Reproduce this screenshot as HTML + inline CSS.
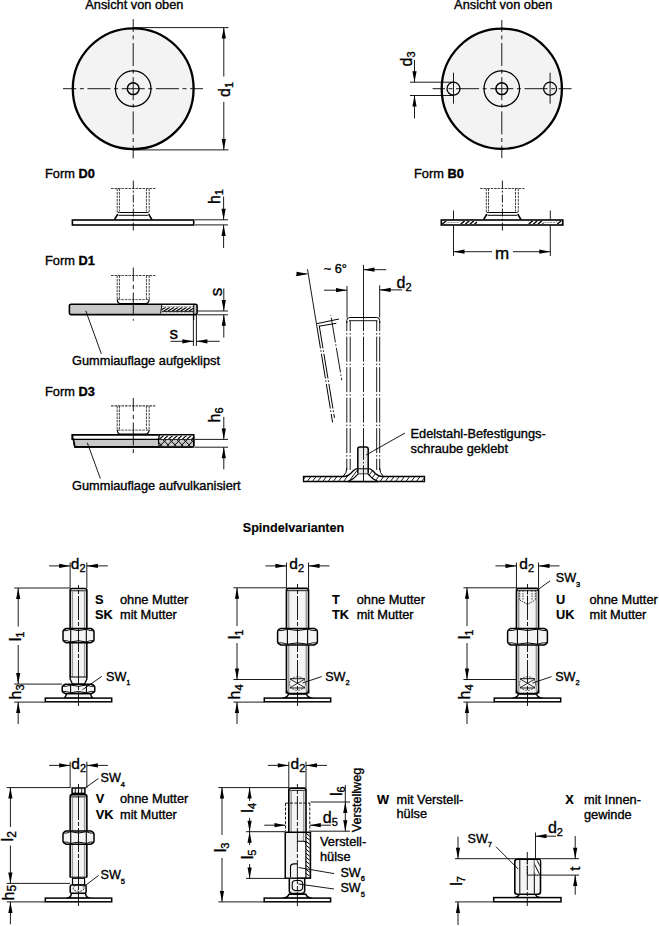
<!DOCTYPE html>
<html><head><meta charset="utf-8"><style>
html,body{margin:0;padding:0;background:#fff;}
svg{display:block;font-family:"Liberation Sans", sans-serif;}
</style></head><body>
<svg width="659" height="926" viewBox="0 0 659 926" font-family="Liberation Sans, sans-serif" fill="#000">
<rect width="659" height="926" fill="#fff"/>
<text x="85.3" y="9.2" font-size="12.8" stroke="#000" stroke-width="0.35">Ansicht von oben</text>
<text x="454.1" y="9.2" font-size="12.8" stroke="#000" stroke-width="0.35">Ansicht von oben</text>
<circle cx="133.2" cy="88.7" r="60.4" fill="#f3f3f3" stroke="#000" stroke-width="2.3"/>
<circle cx="133.2" cy="88.7" r="17.8" fill="none" stroke="#000" stroke-width="1.25"/>
<circle cx="133.2" cy="88.7" r="5.9" fill="none" stroke="#000" stroke-width="1.5"/>
<line x1="133.2" y1="19" x2="133.2" y2="158.3" stroke="#000" stroke-width="0.9" stroke-dasharray="23 3.6 4 3.6" stroke-dashoffset="10.2"/>
<line x1="63" y1="88.7" x2="203" y2="88.7" stroke="#000" stroke-width="0.9" stroke-dasharray="23 3.6 4 3.6" stroke-dashoffset="9.7"/>
<line x1="133.2" y1="27.6" x2="228.5" y2="27.6" stroke="#000" stroke-width="0.9"/>
<line x1="133.2" y1="149.9" x2="228.5" y2="149.9" stroke="#000" stroke-width="0.9"/>
<line x1="223.8" y1="27.6" x2="223.8" y2="76.5" stroke="#000" stroke-width="0.9"/>
<polygon points="223.8,27.6 221.7,38.6 225.9,38.6" fill="#000"/>
<line x1="223.8" y1="149.9" x2="223.8" y2="102" stroke="#000" stroke-width="0.9"/>
<polygon points="223.8,149.9 221.7,138.9 225.9,138.9" fill="#000"/>
<text x="230" y="89.5" font-size="16" text-anchor="middle" transform="rotate(-90 230 89.5)" stroke="#000" stroke-width="0.35">d<tspan font-size="11" dy="3.2">1</tspan></text>
<circle cx="501.8" cy="88.7" r="60.1" fill="#f3f3f3" stroke="#000" stroke-width="2.3"/>
<circle cx="501.8" cy="88.7" r="17.8" fill="none" stroke="#000" stroke-width="1.25"/>
<circle cx="501.8" cy="88.7" r="5.9" fill="none" stroke="#000" stroke-width="1.5"/>
<circle cx="453.5" cy="88.7" r="6.5" fill="#f3f3f3" stroke="#000" stroke-width="1.3"/>
<line x1="453.5" y1="72.7" x2="453.5" y2="103.7" stroke="#000" stroke-width="0.9"/>
<circle cx="550.1" cy="88.7" r="6.5" fill="#f3f3f3" stroke="#000" stroke-width="1.3"/>
<line x1="550.1" y1="72.7" x2="550.1" y2="103.7" stroke="#000" stroke-width="0.9"/>
<line x1="501.8" y1="20" x2="501.8" y2="158.1" stroke="#000" stroke-width="0.9" stroke-dasharray="23 3.6 4 3.6" stroke-dashoffset="11.2"/>
<line x1="432.6" y1="88.7" x2="571.6" y2="88.7" stroke="#000" stroke-width="0.9" stroke-dasharray="23 3.6 4 3.6" stroke-dashoffset="10.7"/>
<line x1="410" y1="82.2" x2="453" y2="82.2" stroke="#000" stroke-width="0.9"/>
<line x1="410" y1="95.5" x2="453" y2="95.5" stroke="#000" stroke-width="0.9"/>
<line x1="414.5" y1="82.2" x2="414.5" y2="60" stroke="#000" stroke-width="0.9"/>
<polygon points="414.5,82.2 412.4,71.2 416.6,71.2" fill="#000"/>
<line x1="414.5" y1="95.5" x2="414.5" y2="118.5" stroke="#000" stroke-width="0.9"/>
<polygon points="414.5,95.5 412.4,106.5 416.6,106.5" fill="#000"/>
<text x="412.1" y="59" font-size="16" text-anchor="middle" transform="rotate(-90 412.1 59)" stroke="#000" stroke-width="0.35">d<tspan font-size="11" dy="3.2">3</tspan></text>
<text x="45" y="178.4" font-size="12.8" stroke="#000" stroke-width="0.35">Form <tspan font-weight="bold">D0</tspan></text>
<line x1="111" y1="188.5" x2="155.3" y2="188.5" stroke="#444" stroke-width="1.1" stroke-dasharray="2.6 0.9"/>
<line x1="117.2" y1="188.5" x2="117.2" y2="211.5" stroke="#444" stroke-width="1" stroke-dasharray="2.6 0.9"/>
<line x1="119.4" y1="188.5" x2="119.4" y2="211.5" stroke="#444" stroke-width="1" stroke-dasharray="2.6 0.9"/>
<line x1="146.4" y1="188.5" x2="146.4" y2="211.5" stroke="#444" stroke-width="1" stroke-dasharray="2.6 0.9"/>
<line x1="149.2" y1="188.5" x2="149.2" y2="211.5" stroke="#444" stroke-width="1" stroke-dasharray="2.6 0.9"/>
<path d="M117.2,211.5 Q117.2,212.5 119.3,212.5 L147.1,212.5 Q149.2,212.5 149.2,211.5" fill="none" stroke="#000" stroke-width="1"/>
<line x1="118.5" y1="215.3" x2="147.9" y2="215.3" stroke="#000" stroke-width="1"/>
<path d="M117.8,214 L114.3,220" fill="none" stroke="#000" stroke-width="1.5"/>
<path d="M148.6,214 L152.1,220" fill="none" stroke="#000" stroke-width="1.5"/>
<rect x="72.4" y="220" width="121.3" height="5" fill="#fff" stroke="#000" stroke-width="1.6"/>
<line x1="133.3" y1="180.6" x2="133.3" y2="231.5" stroke="#000" stroke-width="0.9" stroke-dasharray="8 2 2 2"/>
<line x1="195" y1="219.8" x2="228" y2="219.8" stroke="#000" stroke-width="0.9"/>
<line x1="195" y1="224.9" x2="228" y2="224.9" stroke="#000" stroke-width="0.9"/>
<line x1="223.6" y1="219.8" x2="223.6" y2="196.5" stroke="#000" stroke-width="0.9"/>
<polygon points="223.6,219.8 221.5,208.8 225.7,208.8" fill="#000"/>
<line x1="223.6" y1="224.9" x2="223.6" y2="248" stroke="#000" stroke-width="0.9"/>
<polygon points="223.6,224.9 221.5,235.9 225.7,235.9" fill="#000"/>
<text x="220" y="196.6" font-size="16" text-anchor="middle" transform="rotate(-90 220 196.6)" stroke="#000" stroke-width="0.35">h<tspan font-size="11" dy="3.2">1</tspan></text>
<text x="414" y="178.4" font-size="12.8" stroke="#000" stroke-width="0.35">Form <tspan font-weight="bold">B0</tspan></text>
<line x1="480.1" y1="188.5" x2="524.4" y2="188.5" stroke="#444" stroke-width="1.1" stroke-dasharray="2.6 0.9"/>
<line x1="486.3" y1="188.5" x2="486.3" y2="211.5" stroke="#444" stroke-width="1" stroke-dasharray="2.6 0.9"/>
<line x1="488.5" y1="188.5" x2="488.5" y2="211.5" stroke="#444" stroke-width="1" stroke-dasharray="2.6 0.9"/>
<line x1="515.5" y1="188.5" x2="515.5" y2="211.5" stroke="#444" stroke-width="1" stroke-dasharray="2.6 0.9"/>
<line x1="518.3" y1="188.5" x2="518.3" y2="211.5" stroke="#444" stroke-width="1" stroke-dasharray="2.6 0.9"/>
<path d="M486.3,211.5 Q486.3,212.5 488.4,212.5 L516.2,212.5 Q518.3,212.5 518.3,211.5" fill="none" stroke="#000" stroke-width="1"/>
<line x1="487.6" y1="215.3" x2="517" y2="215.3" stroke="#000" stroke-width="1"/>
<path d="M486.9,214 L483.4,220" fill="none" stroke="#000" stroke-width="1.5"/>
<path d="M517.7,214 L521.2,220" fill="none" stroke="#000" stroke-width="1.5"/>
<rect x="441.3" y="220" width="121.5" height="5" fill="#fff" stroke="#000" stroke-width="1.6"/>
<clipPath id="c60"><rect x="441.5" y="220.9" width="5.5" height="3.2"/></clipPath>
<path d="M433.06,224.1 L436.9,220.9 M437.66,224.1 L441.5,220.9 M442.26,224.1 L446.1,220.9 M446.86,224.1 L450.7,220.9 " stroke="#000" stroke-width="1.3" clip-path="url(#c60)"/>
<clipPath id="c62"><rect x="460" y="220.9" width="17" height="3.2"/></clipPath>
<path d="M451.56,224.1 L455.4,220.9 M456.16,224.1 L460,220.9 M460.76,224.1 L464.6,220.9 M465.36,224.1 L469.2,220.9 M469.96,224.1 L473.8,220.9 M474.56,224.1 L478.4,220.9 " stroke="#000" stroke-width="1.3" clip-path="url(#c62)"/>
<clipPath id="c64"><rect x="528" y="220.9" width="15.5" height="3.2"/></clipPath>
<path d="M519.56,224.1 L523.4,220.9 M524.16,224.1 L528,220.9 M528.76,224.1 L532.6,220.9 M533.36,224.1 L537.2,220.9 M537.96,224.1 L541.8,220.9 M542.56,224.1 L546.4,220.9 " stroke="#000" stroke-width="1.3" clip-path="url(#c64)"/>
<clipPath id="c66"><rect x="556.5" y="220.9" width="5.5" height="3.2"/></clipPath>
<path d="M548.06,224.1 L551.9,220.9 M552.66,224.1 L556.5,220.9 M557.26,224.1 L561.1,220.9 M561.86,224.1 L565.7,220.9 " stroke="#000" stroke-width="1.3" clip-path="url(#c66)"/>
<line x1="453.5" y1="210.5" x2="453.5" y2="219.5" stroke="#000" stroke-width="0.9"/>
<line x1="453.5" y1="225.5" x2="453.5" y2="256" stroke="#000" stroke-width="0.9"/>
<line x1="447.5" y1="222.5" x2="459.5" y2="222.5" stroke="#777" stroke-width="0.8" stroke-dasharray="2 1"/>
<line x1="550.3" y1="210.5" x2="550.3" y2="219.5" stroke="#000" stroke-width="0.9"/>
<line x1="550.3" y1="225.5" x2="550.3" y2="256" stroke="#000" stroke-width="0.9"/>
<line x1="544.3" y1="222.5" x2="556.3" y2="222.5" stroke="#777" stroke-width="0.8" stroke-dasharray="2 1"/>
<line x1="453.5" y1="251.7" x2="492" y2="251.7" stroke="#000" stroke-width="0.9"/>
<polygon points="453.5,251.7 464.5,249.6 464.5,253.8" fill="#000"/>
<line x1="550.3" y1="251.7" x2="513" y2="251.7" stroke="#000" stroke-width="0.9"/>
<polygon points="550.3,251.7 539.3,249.6 539.3,253.8" fill="#000"/>
<text x="502.2" y="258.5" font-size="17" text-anchor="middle" stroke="#000" stroke-width="0.35">m</text>
<line x1="502.4" y1="180.6" x2="502.4" y2="231.5" stroke="#000" stroke-width="0.9" stroke-dasharray="8 2 2 2"/>
<text x="45" y="265.2" font-size="12.8" stroke="#000" stroke-width="0.35">Form <tspan font-weight="bold">D1</tspan></text>
<line x1="111" y1="275.5" x2="155.3" y2="275.5" stroke="#444" stroke-width="1.1" stroke-dasharray="2.6 0.9"/>
<line x1="117.2" y1="275.5" x2="117.2" y2="299.3" stroke="#444" stroke-width="1" stroke-dasharray="2.6 0.9"/>
<line x1="119.4" y1="275.5" x2="119.4" y2="299.3" stroke="#444" stroke-width="1" stroke-dasharray="2.6 0.9"/>
<line x1="146.4" y1="275.5" x2="146.4" y2="299.3" stroke="#444" stroke-width="1" stroke-dasharray="2.6 0.9"/>
<line x1="149.2" y1="275.5" x2="149.2" y2="299.3" stroke="#444" stroke-width="1" stroke-dasharray="2.6 0.9"/>
<path d="M117.2,299.3 Q117.8,303.8 120.3,303.6 L145.5,303.6 Q148.6,303.8 149.2,299.3" fill="none" stroke="#000" stroke-width="1.2"/>
<line x1="117.8" y1="299.6" x2="148.6" y2="299.6" stroke="#444" stroke-width="0.9" stroke-dasharray="2.6 0.9"/>
<rect x="69.4" y="304.3" width="127.7" height="10.3" fill="#c8c8c8" stroke="#000" stroke-width="1.6" rx="1.5"/>
<path d="M162,305.1 L193.7,305.1 L193.7,313.6 L160.5,313.6 Z" fill="#fff" stroke="#fff" stroke-width="0.1"/>
<line x1="161.8" y1="305.1" x2="160.6" y2="313.6" stroke="#000" stroke-width="1"/>
<line x1="162" y1="306.6" x2="193.5" y2="306.6" stroke="#888" stroke-width="0.9" stroke-dasharray="2 0.7"/>
<line x1="162" y1="311.3" x2="193.5" y2="311.3" stroke="#000" stroke-width="1"/>
<line x1="161" y1="312.6" x2="193.5" y2="312.6" stroke="#aaa" stroke-width="0.9" stroke-dasharray="3 0.8"/>
<clipPath id="c94"><rect x="161.5" y="307.2" width="32" height="3.8"/></clipPath>
<path d="M151.22,311 L157.3,307.2 M155.42,311 L161.5,307.2 M159.62,311 L165.7,307.2 M163.82,311 L169.9,307.2 M168.02,311 L174.1,307.2 M172.22,311 L178.3,307.2 M176.42,311 L182.5,307.2 M180.62,311 L186.7,307.2 M184.82,311 L190.9,307.2 M189.02,311 L195.1,307.2 M193.22,311 L199.3,307.2 " stroke="#000" stroke-width="1.2" clip-path="url(#c94)"/>
<line x1="193.7" y1="305" x2="193.7" y2="320" stroke="#000" stroke-width="1"/>
<line x1="133.3" y1="267.6" x2="133.3" y2="320.7" stroke="#000" stroke-width="0.9" stroke-dasharray="23 3.6 4 3.6" stroke-dashoffset="9.3"/>
<line x1="197.5" y1="311" x2="228" y2="311" stroke="#000" stroke-width="0.9"/>
<line x1="197.5" y1="314.8" x2="228" y2="314.8" stroke="#000" stroke-width="0.9"/>
<line x1="223.8" y1="311" x2="223.8" y2="288.4" stroke="#000" stroke-width="0.9"/>
<polygon points="223.8,311 221.7,300 225.9,300" fill="#000"/>
<line x1="223.8" y1="314.8" x2="223.8" y2="337.6" stroke="#000" stroke-width="0.9"/>
<polygon points="223.8,314.8 221.7,325.8 225.9,325.8" fill="#000"/>
<text x="221.8" y="292" font-size="17" text-anchor="middle" transform="rotate(-90 221.8 292)" stroke="#000" stroke-width="0.35">s</text>
<line x1="193.4" y1="315" x2="193.4" y2="346" stroke="#000" stroke-width="0.9"/>
<line x1="196.4" y1="315" x2="196.4" y2="346" stroke="#000" stroke-width="0.9"/>
<line x1="193.4" y1="341.3" x2="170.5" y2="341.3" stroke="#000" stroke-width="0.9"/>
<polygon points="193.4,341.3 182.4,339.2 182.4,343.4" fill="#000"/>
<line x1="196.4" y1="341.3" x2="219.7" y2="341.3" stroke="#000" stroke-width="0.9"/>
<polygon points="196.4,341.3 207.4,339.2 207.4,343.4" fill="#000"/>
<text x="173.7" y="339.3" font-size="17" text-anchor="middle" stroke="#000" stroke-width="0.35">s</text>
<line x1="85.8" y1="310.8" x2="101.3" y2="353.8" stroke="#000" stroke-width="0.9"/>
<text x="72" y="365.2" font-size="12.8" stroke="#000" stroke-width="0.35">Gummiauflage aufgeklipst</text>
<text x="45" y="395.8" font-size="12.8" stroke="#000" stroke-width="0.35">Form <tspan font-weight="bold">D3</tspan></text>
<line x1="111" y1="405.9" x2="155.3" y2="405.9" stroke="#444" stroke-width="1.1" stroke-dasharray="2.6 0.9"/>
<line x1="117.2" y1="405.9" x2="117.2" y2="429.8" stroke="#444" stroke-width="1" stroke-dasharray="2.6 0.9"/>
<line x1="119.4" y1="405.9" x2="119.4" y2="429.8" stroke="#444" stroke-width="1" stroke-dasharray="2.6 0.9"/>
<line x1="146.4" y1="405.9" x2="146.4" y2="429.8" stroke="#444" stroke-width="1" stroke-dasharray="2.6 0.9"/>
<line x1="149.2" y1="405.9" x2="149.2" y2="429.8" stroke="#444" stroke-width="1" stroke-dasharray="2.6 0.9"/>
<path d="M117.2,429.8 Q117.8,434.3 120.3,434.1 L145.5,434.1 Q148.6,434.3 149.2,429.8" fill="none" stroke="#000" stroke-width="1.2"/>
<line x1="117.8" y1="430.1" x2="148.6" y2="430.1" stroke="#444" stroke-width="0.9" stroke-dasharray="2.6 0.9"/>
<path d="M72.4,434.8 L193.7,434.8 L193.7,446.9 L74.9,446.9 L73.4,439.3 L72.4,439.3 Z" fill="#fff" stroke="#000" stroke-width="1.6"/>
<path d="M73.4,439.3 L193.7,439.3 L193.7,446.9 L74.9,446.9 Z" fill="#c8c8c8" stroke="#000" stroke-width="0.1"/>
<path d="M72.4,434.8 L190.7,434.8 Q193.7,434.8 193.7,437.8 L193.7,443.9 Q193.7,446.9 190.7,446.9 L74.9,446.9 L73.4,439.3 L72.4,439.3 Z" fill="none" stroke="#000" stroke-width="1.6"/>
<line x1="73.4" y1="439.3" x2="193.7" y2="439.3" stroke="#000" stroke-width="1.2"/>
<rect x="159" y="435.6" width="34" height="3.4" fill="#fff"/>
<clipPath id="c127"><rect x="159" y="435.6" width="34" height="3.4"/></clipPath>
<path d="M150.32,439 L154.4,435.6 M154.92,439 L159,435.6 M159.52,439 L163.6,435.6 M164.12,439 L168.2,435.6 M168.72,439 L172.8,435.6 M173.32,439 L177.4,435.6 M177.92,439 L182,435.6 M182.52,439 L186.6,435.6 M187.12,439 L191.2,435.6 M191.72,439 L195.8,435.6 " stroke="#000" stroke-width="1.2" clip-path="url(#c127)"/>
<rect x="159" y="439.8" width="34" height="6.4" fill="#c8c8c8"/>
<clipPath id="c130"><rect x="159" y="439.8" width="34" height="6.4"/></clipPath>
<path d="M145.6,446.2 L152,439.8 M152.6,446.2 L159,439.8 M159.6,446.2 L166,439.8 M166.6,446.2 L173,439.8 M173.6,446.2 L180,439.8 M180.6,446.2 L187,439.8 M187.6,446.2 L194,439.8 " stroke="#000" stroke-width="1" clip-path="url(#c130)"/>
<clipPath id="xc1"><rect x="159" y="439.8" width="34" height="6.4"/></clipPath>
<path d="M149,439.8 L155.4,446.2 M156,439.8 L162.4,446.2 M163,439.8 L169.4,446.2 M170,439.8 L176.4,446.2 M177,439.8 L183.4,446.2 M184,439.8 L190.4,446.2 M191,439.8 L197.4,446.2 M198,439.8 L204.4,446.2 " stroke="#000" stroke-width="1.0" clip-path="url(#xc1)"/>
<path d="M159.5,435 Q157.5,441 159.5,446.5" fill="none" stroke="#000" stroke-width="1.2"/>
<line x1="133.3" y1="398" x2="133.3" y2="453.4" stroke="#000" stroke-width="0.9" stroke-dasharray="23 3.6 4 3.6" stroke-dashoffset="9.7"/>
<line x1="195" y1="439.4" x2="228" y2="439.4" stroke="#000" stroke-width="0.9"/>
<line x1="195" y1="447.2" x2="228" y2="447.2" stroke="#000" stroke-width="0.9"/>
<line x1="223.8" y1="439.4" x2="223.8" y2="416.9" stroke="#000" stroke-width="0.9"/>
<polygon points="223.8,439.4 221.7,428.4 225.9,428.4" fill="#000"/>
<line x1="223.8" y1="447.2" x2="223.8" y2="469.4" stroke="#000" stroke-width="0.9"/>
<polygon points="223.8,447.2 221.7,458.2 225.9,458.2" fill="#000"/>
<text x="220" y="415" font-size="16" text-anchor="middle" transform="rotate(-90 220 415)" stroke="#000" stroke-width="0.35">h<tspan font-size="11" dy="3.2">6</tspan></text>
<line x1="87.3" y1="442.8" x2="100.4" y2="478.6" stroke="#000" stroke-width="0.9"/>
<text x="72" y="490.2" font-size="12.8" stroke="#000" stroke-width="0.35">Gummiauflage aufvulkanisiert</text>
<line x1="363.5" y1="264.9" x2="363.5" y2="319.5" stroke="#000" stroke-width="0.9"/>
<line x1="363.5" y1="319.5" x2="363.5" y2="481.5" stroke="#000" stroke-width="0.9" stroke-dasharray="25 2 1.5 2" stroke-dashoffset="13.35"/>
<line x1="363.5" y1="269.7" x2="386.3" y2="269.7" stroke="#000" stroke-width="0.9"/>
<polygon points="363.5,269.7 374.5,267.6 374.5,271.8" fill="#000"/>
<text x="335.3" y="273.2" font-size="12.8" text-anchor="middle" stroke="#000" stroke-width="0.35">~ 6°</text>
<line x1="347" y1="286" x2="347" y2="317.5" stroke="#000" stroke-width="0.9"/>
<line x1="379.7" y1="285.3" x2="379.7" y2="317.5" stroke="#000" stroke-width="0.9"/>
<line x1="347" y1="290.2" x2="324" y2="290.2" stroke="#000" stroke-width="0.9"/>
<polygon points="347,290.2 336,288.1 336,292.3" fill="#000"/>
<line x1="379.7" y1="289.9" x2="402.2" y2="289.9" stroke="#000" stroke-width="0.9"/>
<polygon points="379.7,289.9 390.7,287.8 390.7,292" fill="#000"/>
<text x="396.5" y="287.5" font-size="16" stroke="#000" stroke-width="0.35">d<tspan font-size="11" dy="3.2">2</tspan></text>
<path d="M346.8,323 L346.8,320.5 Q346.8,317.5 349.8,317.5 L376.7,317.5 Q379.7,317.5 379.7,320.5 L379.7,323" fill="none" stroke="#000" stroke-width="1"/>
<line x1="349" y1="320.7" x2="377.5" y2="320.7" stroke="#000" stroke-width="0.9"/>
<line x1="346.8" y1="321" x2="346.8" y2="470" stroke="#000" stroke-width="0.9" stroke-dasharray="25 2 1.5 2" stroke-dashoffset="14.85"/>
<line x1="350.2" y1="321" x2="350.2" y2="470" stroke="#000" stroke-width="0.9" stroke-dasharray="25 2 1.5 2" stroke-dashoffset="14.85"/>
<line x1="376.7" y1="321" x2="376.7" y2="470" stroke="#000" stroke-width="0.9" stroke-dasharray="25 2 1.5 2" stroke-dashoffset="14.85"/>
<line x1="379.7" y1="321" x2="379.7" y2="470" stroke="#000" stroke-width="0.9" stroke-dasharray="25 2 1.5 2" stroke-dashoffset="14.85"/>
<line x1="307.5" y1="269.2" x2="316.9" y2="326.5" stroke="#000" stroke-width="0.9"/>
<path d="M295.9,275.6 L307.5,273.8" fill="none" stroke="#000" stroke-width="0.9"/>
<polygon points="307.5,273.8 296.5,271.7 296.5,275.9" fill="#000"/>
<line x1="316.9" y1="326.5" x2="332.6" y2="422.5" stroke="#000" stroke-width="1" stroke-dasharray="25 2 1.5 2" stroke-dashoffset="2.87"/>
<line x1="319.2" y1="325.5" x2="334.5" y2="417.9" stroke="#000" stroke-width="1" stroke-dasharray="25 2 1.5 2" stroke-dashoffset="1.85"/>
<path d="M317,323.6 L339,319" fill="none" stroke="#000" stroke-width="1"/>
<path d="M319.2,326.2 L336.3,323.3" fill="none" stroke="#000" stroke-width="1"/>
<line x1="330.8" y1="315.1" x2="341.8" y2="380.2" stroke="#000" stroke-width="0.9" stroke-dasharray="25 2 1.5 2" stroke-dashoffset="27.86"/>
<clipPath id="mpc"><path d="M303.5,476.5 L344,476.5 Q349,476 353,471 Q355,468.6 358,468.3 L368,468.3 Q371,468.6 373,471 Q377,476 382,476.5 L424.5,476.5 L424.5,481.5 L303.5,481.5 Z"/></clipPath>
<path d="M303.5,476.5 L344,476.5 Q349,476 353,471 Q355,468.6 358,468.3 L368,468.3 Q371,468.6 373,471 Q377,476 382,476.5 L424.5,476.5 L424.5,481.5 L303.5,481.5 Z" fill="#fff" stroke="#fff" stroke-width="0.1"/>
<path d="M286,482 L298,466 M291.2,482 L303.2,466 M296.4,482 L308.4,466 M301.6,482 L313.6,466 M306.8,482 L318.8,466 M312,482 L324,466 M317.2,482 L329.2,466 M322.4,482 L334.4,466 M327.6,482 L339.6,466 M332.8,482 L344.8,466 M338,482 L350,466 M343.2,482 L355.2,466 M348.4,482 L360.4,466 M353.6,482 L365.6,466 M358.8,482 L370.8,466 M364,482 L376,466 M369.2,482 L381.2,466 M374.4,482 L386.4,466 M379.6,482 L391.6,466 M384.8,482 L396.8,466 M390,482 L402,466 M395.2,482 L407.2,466 M400.4,482 L412.4,466 M405.6,482 L417.6,466 M410.8,482 L422.8,466 M416,482 L428,466 M421.2,482 L433.2,466 M426.4,482 L438.4,466 " stroke="#000" stroke-width="0.9" clip-path="url(#mpc)"/>
<path d="M348,481.6 Q354,479 358.5,473.6 L367.5,473.6 Q372,479 378,481.6 Z" fill="#fff" stroke="#000" stroke-width="1.2"/>
<path d="M303.5,476.5 L344,476.5 Q349,476 353,471 Q355,468.6 358,468.3 L368,468.3 Q371,468.6 373,471 Q377,476 382,476.5 L424.5,476.5 L424.5,481.5 L303.5,481.5 Z" fill="none" stroke="#000" stroke-width="1.3"/>
<path d="M346.8,468 Q347,473 343,476.5" fill="none" stroke="#000" stroke-width="1"/>
<path d="M379.7,468 Q379.5,473 383.5,476.5" fill="none" stroke="#000" stroke-width="1"/>
<path d="M357.8,473.6 L357.8,449 Q357.8,447 360,447 L366,447 Q368.2,447 368.2,449 L368.2,473.6" fill="#eaeaea" stroke="#000" stroke-width="1.5"/>
<line x1="357.8" y1="468.8" x2="368.2" y2="468.8" stroke="#000" stroke-width="1"/>
<line x1="363.5" y1="444" x2="363.5" y2="481.5" stroke="#000" stroke-width="0.9" stroke-dasharray="25 2 1.5 2" stroke-dashoffset="9.15"/>
<line x1="405" y1="433" x2="366.1" y2="455" stroke="#000" stroke-width="0.9"/>
<text x="410.5" y="437.5" font-size="12.8" stroke="#000" stroke-width="0.35">Edelstahl-Befestigungs-</text>
<text x="410.5" y="452.5" font-size="12.8" stroke="#000" stroke-width="0.35">schraube geklebt</text>
<text x="293.5" y="531.7" font-size="12.6" font-weight="bold" text-anchor="middle" stroke="#000" stroke-width="0.15">Spindelvarianten</text>
<line x1="70.15" y1="562.5" x2="70.15" y2="588" stroke="#000" stroke-width="0.9"/>
<line x1="86.85" y1="562.5" x2="86.85" y2="588" stroke="#000" stroke-width="0.9"/>
<line x1="70.15" y1="565.9" x2="49.15" y2="565.9" stroke="#000" stroke-width="0.9"/>
<polygon points="70.15,565.9 59.15,563.8 59.15,568" fill="#000"/>
<line x1="86.85" y1="565.9" x2="107.85" y2="565.9" stroke="#000" stroke-width="0.9"/>
<polygon points="86.85,565.9 97.85,563.8 97.85,568" fill="#000"/>
<text x="70.8" y="568.7" font-size="15.5" stroke="#000" stroke-width="0.35">d<tspan font-size="11" dy="3.2">2</tspan></text>
<path d="M70.15,677.5 L70.15,590.5 Q70.15,588.5 72.15,588.5 L84.85,588.5 Q86.85,588.5 86.85,590.5 L86.85,677.5" fill="#f4f4f4" stroke="#000" stroke-width="1.6"/>
<line x1="70.65" y1="590.8" x2="86.35" y2="590.8" stroke="#000" stroke-width="0.9"/>
<line x1="72.4" y1="591" x2="72.4" y2="677.5" stroke="#999" stroke-width="1.4"/>
<line x1="84.6" y1="591" x2="84.6" y2="677.5" stroke="#999" stroke-width="1.4"/>
<path d="M63,631.7 Q63,629.78 66.2,628.5 L90.8,628.5 Q94,629.78 94,631.7 L94,639.6 Q94,641.52 90.8,642.8 L66.2,642.8 Q63,641.52 63,639.6 Z" fill="#f4f4f4" stroke="#000" stroke-width="1.5"/>
<line x1="70.7" y1="629.3" x2="70.7" y2="642" stroke="#000" stroke-width="1.1"/>
<line x1="86.3" y1="629.3" x2="86.3" y2="642" stroke="#000" stroke-width="1.1"/>
<path d="M70.7,629.3 Q78.5,631.88 86.3,629.3" fill="none" stroke="#000" stroke-width="1"/>
<path d="M70.7,642 Q78.5,639.42 86.3,642" fill="none" stroke="#000" stroke-width="1"/>
<path d="M64,630.7 Q66.85,631.1 70.7,629.3" fill="none" stroke="#000" stroke-width="0.9"/>
<path d="M86.3,629.3 Q90.15,631.1 93,630.7" fill="none" stroke="#000" stroke-width="0.9"/>
<path d="M64,640.6 Q66.85,640.2 70.7,642" fill="none" stroke="#000" stroke-width="0.9"/>
<path d="M86.3,642 Q90.15,640.2 93,640.6" fill="none" stroke="#000" stroke-width="0.9"/>
<path d="M70.15,677 L70.15,679 L72.5,684.2 L84.5,684.2 L86.85,679 L86.85,677" fill="#f4f4f4" stroke="#000" stroke-width="1.3"/>
<line x1="70.15" y1="677" x2="86.85" y2="677" stroke="#000" stroke-width="1"/>
<path d="M64,698.2 Q65.5,697.7 66.5,693.6 L90.5,693.6 Q91.5,697.7 93,698.2 Z" fill="#f4f4f4" stroke="#000" stroke-width="1.4"/>
<rect x="45.3" y="698.1" width="66.4" height="3.7" fill="#fff" stroke="#000" stroke-width="1.5"/>
<path d="M62.2,687.4 Q62.2,685.48 65.4,684.2 L91.6,684.2 Q94.8,685.48 94.8,687.4 L94.8,690.4 Q94.8,692.32 91.6,693.6 L65.4,693.6 Q62.2,692.32 62.2,690.4 Z" fill="#f4f4f4" stroke="#000" stroke-width="1.5"/>
<line x1="70.6" y1="685" x2="70.6" y2="692.8" stroke="#000" stroke-width="1.1"/>
<line x1="86.4" y1="685" x2="86.4" y2="692.8" stroke="#000" stroke-width="1.1"/>
<path d="M70.6,685 Q78.5,687.58 86.4,685" fill="none" stroke="#000" stroke-width="1"/>
<path d="M70.6,692.8 Q78.5,690.22 86.4,692.8" fill="none" stroke="#000" stroke-width="1"/>
<path d="M63.2,686.4 Q66.4,686.8 70.6,685" fill="none" stroke="#000" stroke-width="0.9"/>
<path d="M86.4,685 Q90.6,686.8 93.8,686.4" fill="none" stroke="#000" stroke-width="0.9"/>
<path d="M63.2,691.4 Q66.4,691 70.6,692.8" fill="none" stroke="#000" stroke-width="0.9"/>
<path d="M86.4,692.8 Q90.6,691 93.8,691.4" fill="none" stroke="#000" stroke-width="0.9"/>
<line x1="78.5" y1="585" x2="78.5" y2="706" stroke="#000" stroke-width="0.9" stroke-dasharray="24 2 4 2" stroke-dashoffset="21"/>
<line x1="14.2" y1="588" x2="70" y2="588" stroke="#000" stroke-width="0.9"/>
<line x1="14.2" y1="684.1" x2="62" y2="684.1" stroke="#000" stroke-width="0.9"/>
<line x1="14.2" y1="702.1" x2="45" y2="702.1" stroke="#000" stroke-width="0.9"/>
<line x1="18.2" y1="588" x2="18.2" y2="626.5" stroke="#000" stroke-width="0.9"/>
<polygon points="18.2,588 16.1,599 20.3,599" fill="#000"/>
<line x1="18.2" y1="684.1" x2="18.2" y2="645" stroke="#000" stroke-width="0.9"/>
<polygon points="18.2,684.1 16.1,673.1 20.3,673.1" fill="#000"/>
<line x1="18.2" y1="702.1" x2="18.2" y2="724" stroke="#000" stroke-width="0.9"/>
<polygon points="18.2,702.1 16.1,713.1 20.3,713.1" fill="#000"/>
<text x="21" y="636.5" font-size="16" text-anchor="middle" transform="rotate(-90 21 636.5)" stroke="#000" stroke-width="0.35">l<tspan font-size="11" dy="3.2">1</tspan></text>
<text x="21" y="699.5" font-size="16" transform="rotate(-90 21 699.5)" stroke="#000" stroke-width="0.35">h<tspan font-size="11" dy="3.2">3</tspan></text>
<text x="95" y="603.8" font-size="12.8" font-weight="bold" stroke="#000" stroke-width="0.15">S</text>
<text x="120" y="603.8" font-size="12.8" stroke="#000" stroke-width="0.35">ohne Mutter</text>
<text x="95" y="619.1" font-size="12.8" font-weight="bold" stroke="#000" stroke-width="0.15">SK</text>
<text x="120" y="619.1" font-size="12.8" stroke="#000" stroke-width="0.35">mit Mutter</text>
<line x1="101.8" y1="676.4" x2="82.5" y2="689.7" stroke="#000" stroke-width="0.9"/>
<text x="106" y="680.8" font-size="12.6" stroke="#000" stroke-width="0.35">SW<tspan font-size="7.5" dy="4.6">1</tspan></text>
<line x1="286.45" y1="562.5" x2="286.45" y2="588" stroke="#000" stroke-width="0.9"/>
<line x1="308.55" y1="562.5" x2="308.55" y2="588" stroke="#000" stroke-width="0.9"/>
<line x1="286.45" y1="565.9" x2="265.45" y2="565.9" stroke="#000" stroke-width="0.9"/>
<polygon points="286.45,565.9 275.45,563.8 275.45,568" fill="#000"/>
<line x1="308.55" y1="565.9" x2="329.55" y2="565.9" stroke="#000" stroke-width="0.9"/>
<polygon points="308.55,565.9 319.55,563.8 319.55,568" fill="#000"/>
<text x="289.3" y="568.9" font-size="15.5" stroke="#000" stroke-width="0.35">d<tspan font-size="11" dy="3.2">2</tspan></text>
<path d="M282.5,698.2 Q287.5,697.7 288.5,694 L306.5,694 Q307.5,697.7 312.5,698.2 Z" fill="#f4f4f4" stroke="#000" stroke-width="1.4"/>
<rect x="264.3" y="698.1" width="66.4" height="3.7" fill="#fff" stroke="#000" stroke-width="1.5"/>
<path d="M286.45,693.5 L286.45,590.4 Q286.45,588.4 288.45,588.4 L306.55,588.4 Q308.55,588.4 308.55,590.4 L308.55,693.5" fill="#f4f4f4" stroke="#000" stroke-width="1.6"/>
<line x1="286.95" y1="590.7" x2="308.05" y2="590.7" stroke="#000" stroke-width="0.9"/>
<line x1="288.7" y1="590.9" x2="288.7" y2="693.5" stroke="#999" stroke-width="1.4"/>
<line x1="306.3" y1="590.9" x2="306.3" y2="693.5" stroke="#999" stroke-width="1.4"/>
<path d="M286.45,690.5 Q286.45,693.5 289.5,693.5 L305.5,693.5 Q308.55,693.5 308.55,690.5" fill="none" stroke="#000" stroke-width="1.6"/>
<path d="M277.6,631.6 Q277.6,629.68 280.8,628.4 L314.2,628.4 Q317.4,629.68 317.4,631.6 L317.4,641.8 Q317.4,643.72 314.2,645 L280.8,645 Q277.6,643.72 277.6,641.8 Z" fill="#f4f4f4" stroke="#000" stroke-width="1.5"/>
<line x1="287.4" y1="629.2" x2="287.4" y2="644.2" stroke="#000" stroke-width="1.1"/>
<line x1="307.6" y1="629.2" x2="307.6" y2="644.2" stroke="#000" stroke-width="1.1"/>
<path d="M287.4,629.2 Q297.5,631.78 307.6,629.2" fill="none" stroke="#000" stroke-width="1"/>
<path d="M287.4,644.2 Q297.5,641.62 307.6,644.2" fill="none" stroke="#000" stroke-width="1"/>
<path d="M278.6,630.6 Q282.5,631 287.4,629.2" fill="none" stroke="#000" stroke-width="0.9"/>
<path d="M307.6,629.2 Q312.5,631 316.4,630.6" fill="none" stroke="#000" stroke-width="0.9"/>
<path d="M278.6,642.8 Q282.5,642.4 287.4,644.2" fill="none" stroke="#000" stroke-width="0.9"/>
<path d="M307.6,644.2 Q312.5,642.4 316.4,642.8" fill="none" stroke="#000" stroke-width="0.9"/>
<ellipse cx="297.5" cy="683.6" rx="8" ry="6.8" fill="none" stroke="#000" stroke-width="0.6" stroke-dasharray="2 1"/>
<line x1="290" y1="678.7" x2="305" y2="678.7" stroke="#000" stroke-width="0.9"/>
<line x1="290" y1="688" x2="305" y2="688" stroke="#000" stroke-width="0.9"/>
<line x1="290" y1="679" x2="305" y2="687.7" stroke="#000" stroke-width="0.8"/>
<line x1="290" y1="687.7" x2="305" y2="679" stroke="#000" stroke-width="0.8"/>
<line x1="297.5" y1="584" x2="297.5" y2="706" stroke="#000" stroke-width="0.9" stroke-dasharray="24 2 4 2" stroke-dashoffset="20"/>
<line x1="233.4" y1="587.8" x2="286.5" y2="587.8" stroke="#000" stroke-width="0.9"/>
<line x1="233.4" y1="679.5" x2="286.5" y2="679.5" stroke="#000" stroke-width="0.9"/>
<line x1="233.4" y1="702.1" x2="264.5" y2="702.1" stroke="#000" stroke-width="0.9"/>
<line x1="237" y1="587.8" x2="237" y2="626" stroke="#000" stroke-width="0.9"/>
<polygon points="237,587.8 234.9,598.8 239.1,598.8" fill="#000"/>
<line x1="237" y1="679.5" x2="237" y2="643" stroke="#000" stroke-width="0.9"/>
<polygon points="237,679.5 234.9,668.5 239.1,668.5" fill="#000"/>
<line x1="237" y1="702.1" x2="237" y2="724" stroke="#000" stroke-width="0.9"/>
<polygon points="237,702.1 234.9,713.1 239.1,713.1" fill="#000"/>
<text x="240" y="634.5" font-size="16" text-anchor="middle" transform="rotate(-90 240 634.5)" stroke="#000" stroke-width="0.35">l<tspan font-size="11" dy="3.2">1</tspan></text>
<text x="240" y="699.5" font-size="16" transform="rotate(-90 240 699.5)" stroke="#000" stroke-width="0.35">h<tspan font-size="11" dy="3.2">4</tspan></text>
<line x1="321.6" y1="676.6" x2="302.5" y2="683" stroke="#000" stroke-width="0.9"/>
<text x="325.2" y="680.8" font-size="12.6" stroke="#000" stroke-width="0.35">SW<tspan font-size="7.5" dy="4.6">2</tspan></text>
<text x="332" y="603.7" font-size="12.8" font-weight="bold" stroke="#000" stroke-width="0.15">T</text>
<text x="356.7" y="603.7" font-size="12.8" stroke="#000" stroke-width="0.35">ohne Mutter</text>
<text x="332" y="619" font-size="12.8" font-weight="bold" stroke="#000" stroke-width="0.15">TK</text>
<text x="356.7" y="619" font-size="12.8" stroke="#000" stroke-width="0.35">mit Mutter</text>
<line x1="516.45" y1="562.5" x2="516.45" y2="588" stroke="#000" stroke-width="0.9"/>
<line x1="538.55" y1="562.5" x2="538.55" y2="588" stroke="#000" stroke-width="0.9"/>
<line x1="516.45" y1="565.9" x2="495.45" y2="565.9" stroke="#000" stroke-width="0.9"/>
<polygon points="516.45,565.9 505.45,563.8 505.45,568" fill="#000"/>
<line x1="538.55" y1="565.9" x2="559.55" y2="565.9" stroke="#000" stroke-width="0.9"/>
<polygon points="538.55,565.9 549.55,563.8 549.55,568" fill="#000"/>
<text x="519.3" y="568.9" font-size="15.5" stroke="#000" stroke-width="0.35">d<tspan font-size="11" dy="3.2">2</tspan></text>
<path d="M512.5,698.2 Q517.5,697.7 518.5,694 L536.5,694 Q537.5,697.7 542.5,698.2 Z" fill="#f4f4f4" stroke="#000" stroke-width="1.4"/>
<rect x="494.3" y="698.1" width="66.4" height="3.7" fill="#fff" stroke="#000" stroke-width="1.5"/>
<path d="M516.45,693.5 L516.45,590.4 Q516.45,588.4 518.45,588.4 L536.55,588.4 Q538.55,588.4 538.55,590.4 L538.55,693.5" fill="#f4f4f4" stroke="#000" stroke-width="1.6"/>
<line x1="516.95" y1="590.7" x2="538.05" y2="590.7" stroke="#000" stroke-width="0.9"/>
<line x1="518.7" y1="590.9" x2="518.7" y2="693.5" stroke="#999" stroke-width="1.4"/>
<line x1="536.3" y1="590.9" x2="536.3" y2="693.5" stroke="#999" stroke-width="1.4"/>
<path d="M516.45,690.5 Q516.45,693.5 519.5,693.5 L535.5,693.5 Q538.55,693.5 538.55,690.5" fill="none" stroke="#000" stroke-width="1.6"/>
<path d="M507.6,631.6 Q507.6,629.68 510.8,628.4 L544.2,628.4 Q547.4,629.68 547.4,631.6 L547.4,641.8 Q547.4,643.72 544.2,645 L510.8,645 Q507.6,643.72 507.6,641.8 Z" fill="#f4f4f4" stroke="#000" stroke-width="1.5"/>
<line x1="517.4" y1="629.2" x2="517.4" y2="644.2" stroke="#000" stroke-width="1.1"/>
<line x1="537.6" y1="629.2" x2="537.6" y2="644.2" stroke="#000" stroke-width="1.1"/>
<path d="M517.4,629.2 Q527.5,631.78 537.6,629.2" fill="none" stroke="#000" stroke-width="1"/>
<path d="M517.4,644.2 Q527.5,641.62 537.6,644.2" fill="none" stroke="#000" stroke-width="1"/>
<path d="M508.6,630.6 Q512.5,631 517.4,629.2" fill="none" stroke="#000" stroke-width="0.9"/>
<path d="M537.6,629.2 Q542.5,631 546.4,630.6" fill="none" stroke="#000" stroke-width="0.9"/>
<path d="M508.6,642.8 Q512.5,642.4 517.4,644.2" fill="none" stroke="#000" stroke-width="0.9"/>
<path d="M537.6,644.2 Q542.5,642.4 546.4,642.8" fill="none" stroke="#000" stroke-width="0.9"/>
<ellipse cx="527.5" cy="683.6" rx="8" ry="6.8" fill="none" stroke="#000" stroke-width="0.6" stroke-dasharray="2 1"/>
<line x1="520" y1="678.7" x2="535" y2="678.7" stroke="#000" stroke-width="0.9"/>
<line x1="520" y1="688" x2="535" y2="688" stroke="#000" stroke-width="0.9"/>
<line x1="520" y1="679" x2="535" y2="687.7" stroke="#000" stroke-width="0.8"/>
<line x1="520" y1="687.7" x2="535" y2="679" stroke="#000" stroke-width="0.8"/>
<line x1="527.5" y1="584" x2="527.5" y2="706" stroke="#000" stroke-width="0.9" stroke-dasharray="24 2 4 2" stroke-dashoffset="20"/>
<line x1="463.4" y1="587.8" x2="516.5" y2="587.8" stroke="#000" stroke-width="0.9"/>
<line x1="463.4" y1="679.5" x2="516.5" y2="679.5" stroke="#000" stroke-width="0.9"/>
<line x1="463.4" y1="702.1" x2="494.5" y2="702.1" stroke="#000" stroke-width="0.9"/>
<line x1="467" y1="587.8" x2="467" y2="626" stroke="#000" stroke-width="0.9"/>
<polygon points="467,587.8 464.9,598.8 469.1,598.8" fill="#000"/>
<line x1="467" y1="679.5" x2="467" y2="643" stroke="#000" stroke-width="0.9"/>
<polygon points="467,679.5 464.9,668.5 469.1,668.5" fill="#000"/>
<line x1="467" y1="702.1" x2="467" y2="724" stroke="#000" stroke-width="0.9"/>
<polygon points="467,702.1 464.9,713.1 469.1,713.1" fill="#000"/>
<text x="470" y="634.5" font-size="16" text-anchor="middle" transform="rotate(-90 470 634.5)" stroke="#000" stroke-width="0.35">l<tspan font-size="11" dy="3.2">1</tspan></text>
<text x="470" y="699.5" font-size="16" transform="rotate(-90 470 699.5)" stroke="#000" stroke-width="0.35">h<tspan font-size="11" dy="3.2">4</tspan></text>
<line x1="551.6" y1="676.6" x2="532.5" y2="683" stroke="#000" stroke-width="0.9"/>
<text x="555.2" y="680.8" font-size="12.6" stroke="#000" stroke-width="0.35">SW<tspan font-size="7.5" dy="4.6">2</tspan></text>
<text x="556" y="603.7" font-size="12.8" font-weight="bold" stroke="#000" stroke-width="0.15">U</text>
<text x="589.5" y="603.7" font-size="12.8" stroke="#000" stroke-width="0.35">ohne Mutter</text>
<text x="556" y="619" font-size="12.8" font-weight="bold" stroke="#000" stroke-width="0.15">UK</text>
<text x="589.5" y="619" font-size="12.8" stroke="#000" stroke-width="0.35">mit Mutter</text>
<line x1="519.7" y1="590.5" x2="519.7" y2="600" stroke="#000" stroke-width="0.7" stroke-dasharray="1.5 1"/>
<line x1="523" y1="590.5" x2="523" y2="600" stroke="#000" stroke-width="0.7" stroke-dasharray="1.5 1"/>
<line x1="527.5" y1="590.5" x2="527.5" y2="600" stroke="#000" stroke-width="0.7" stroke-dasharray="1.5 1"/>
<line x1="532" y1="590.5" x2="532" y2="600" stroke="#000" stroke-width="0.7" stroke-dasharray="1.5 1"/>
<line x1="535.3" y1="590.5" x2="535.3" y2="600" stroke="#000" stroke-width="0.7" stroke-dasharray="1.5 1"/>
<path d="M519.7,600 L527.5,604.3 L535.3,600" fill="none" stroke="#000" stroke-width="0.8" stroke-dasharray="1.5 1"/>
<line x1="550.1" y1="580.8" x2="538.7" y2="589.1" stroke="#000" stroke-width="0.9"/>
<text x="555.8" y="582" font-size="12.6" stroke="#000" stroke-width="0.35">SW<tspan font-size="7.5" dy="4.6">3</tspan></text>
<line x1="70.15" y1="761.7" x2="70.15" y2="788" stroke="#000" stroke-width="0.9"/>
<line x1="86.85" y1="761.7" x2="86.85" y2="788" stroke="#000" stroke-width="0.9"/>
<line x1="70.15" y1="765.4" x2="49.15" y2="765.4" stroke="#000" stroke-width="0.9"/>
<polygon points="70.15,765.4 59.15,763.3 59.15,767.5" fill="#000"/>
<line x1="86.85" y1="765.4" x2="107.85" y2="765.4" stroke="#000" stroke-width="0.9"/>
<polygon points="86.85,765.4 97.85,763.3 97.85,767.5" fill="#000"/>
<text x="71.3" y="768.6" font-size="15.5" stroke="#000" stroke-width="0.35">d<tspan font-size="11" dy="3.2">2</tspan></text>
<path d="M70.15,877.5 L70.15,796.6 Q70.15,794.6 72.15,794.6 L84.85,794.6 Q86.85,794.6 86.85,796.6 L86.85,877.5" fill="#f4f4f4" stroke="#000" stroke-width="1.6"/>
<line x1="70.65" y1="796.9" x2="86.35" y2="796.9" stroke="#000" stroke-width="0.9"/>
<line x1="72.4" y1="797.1" x2="72.4" y2="877.5" stroke="#999" stroke-width="1.4"/>
<line x1="84.6" y1="797.1" x2="84.6" y2="877.5" stroke="#999" stroke-width="1.4"/>
<rect x="72.1" y="788" width="12.8" height="5.4" fill="#f4f4f4" stroke="#000" stroke-width="1.5"/>
<line x1="75.3" y1="788.5" x2="75.3" y2="793" stroke="#000" stroke-width="0.9"/>
<line x1="78.5" y1="788.5" x2="78.5" y2="793" stroke="#000" stroke-width="0.9"/>
<line x1="81.7" y1="788.5" x2="81.7" y2="793" stroke="#000" stroke-width="0.9"/>
<path d="M63,834.1 Q63,832.18 66.2,830.9 L90.8,830.9 Q94,832.18 94,834.1 L94,841 Q94,842.92 90.8,844.2 L66.2,844.2 Q63,842.92 63,841 Z" fill="#f4f4f4" stroke="#000" stroke-width="1.5"/>
<line x1="70.7" y1="831.7" x2="70.7" y2="843.4" stroke="#000" stroke-width="1.1"/>
<line x1="86.3" y1="831.7" x2="86.3" y2="843.4" stroke="#000" stroke-width="1.1"/>
<path d="M70.7,831.7 Q78.5,834.28 86.3,831.7" fill="none" stroke="#000" stroke-width="1"/>
<path d="M70.7,843.4 Q78.5,840.82 86.3,843.4" fill="none" stroke="#000" stroke-width="1"/>
<path d="M64,833.1 Q66.85,833.5 70.7,831.7" fill="none" stroke="#000" stroke-width="0.9"/>
<path d="M86.3,831.7 Q90.15,833.5 93,833.1" fill="none" stroke="#000" stroke-width="0.9"/>
<path d="M64,842 Q66.85,841.6 70.7,843.4" fill="none" stroke="#000" stroke-width="0.9"/>
<path d="M86.3,843.4 Q90.15,841.6 93,842" fill="none" stroke="#000" stroke-width="0.9"/>
<path d="M66.5,898.2 Q71,897.8 71.5,893.3 L85.5,893.3 Q86,897.8 90.5,898.2 Z" fill="#f4f4f4" stroke="#000" stroke-width="1.4"/>
<rect x="45.3" y="898.1" width="66.4" height="3.7" fill="#fff" stroke="#000" stroke-width="1.5"/>
<line x1="70.15" y1="877.2" x2="86.85" y2="877.2" stroke="#000" stroke-width="1"/>
<rect x="72.5" y="878.3" width="12.1" height="6.7" fill="#f4f4f4" stroke="#000" stroke-width="1.2"/>
<rect x="70.2" y="885" width="15.9" height="8.3" rx="1.5" fill="#f4f4f4" stroke="#000" stroke-width="1.5"/>
<ellipse cx="78.6" cy="888.2" rx="5.4" ry="3.2" fill="none" stroke="#000" stroke-width="0.8" stroke-dasharray="2 1"/>
<line x1="78.5" y1="784" x2="78.5" y2="906" stroke="#000" stroke-width="0.9" stroke-dasharray="24 2 4 2" stroke-dashoffset="20"/>
<line x1="6.7" y1="787.6" x2="70" y2="787.6" stroke="#000" stroke-width="0.9"/>
<line x1="6.7" y1="883.4" x2="70" y2="883.4" stroke="#000" stroke-width="0.9"/>
<line x1="6.7" y1="901.9" x2="45" y2="901.9" stroke="#000" stroke-width="0.9"/>
<line x1="10.4" y1="787.6" x2="10.4" y2="827" stroke="#000" stroke-width="0.9"/>
<polygon points="10.4,787.6 8.3,798.6 12.5,798.6" fill="#000"/>
<line x1="10.4" y1="883.4" x2="10.4" y2="845.5" stroke="#000" stroke-width="0.9"/>
<polygon points="10.4,883.4 8.3,872.4 12.5,872.4" fill="#000"/>
<line x1="10.4" y1="901.9" x2="10.4" y2="924.3" stroke="#000" stroke-width="0.9"/>
<polygon points="10.4,901.9 8.3,912.9 12.5,912.9" fill="#000"/>
<text x="13.5" y="836.3" font-size="16" text-anchor="middle" transform="rotate(-90 13.5 836.3)" stroke="#000" stroke-width="0.35">l<tspan font-size="12" dy="2.5">2</tspan></text>
<text x="13.5" y="900.5" font-size="16" transform="rotate(-90 13.5 900.5)" stroke="#000" stroke-width="0.35">h<tspan font-size="12" dy="2.3">5</tspan></text>
<text x="95.8" y="803.2" font-size="12.8" font-weight="bold" stroke="#000" stroke-width="0.15">V</text>
<text x="120" y="803.2" font-size="12.8" stroke="#000" stroke-width="0.35">ohne Mutter</text>
<text x="95.8" y="818.7" font-size="12.8" font-weight="bold" stroke="#000" stroke-width="0.15">VK</text>
<text x="120" y="818.7" font-size="12.8" stroke="#000" stroke-width="0.35">mit Mutter</text>
<line x1="98.5" y1="778.4" x2="85.1" y2="788" stroke="#000" stroke-width="0.9"/>
<text x="100.5" y="782.3" font-size="12.6" stroke="#000" stroke-width="0.35">SW<tspan font-size="7.5" dy="4.6">4</tspan></text>
<line x1="98.5" y1="875.5" x2="84" y2="886.5" stroke="#000" stroke-width="0.9"/>
<text x="100.5" y="879.4" font-size="12.6" stroke="#000" stroke-width="0.35">SW<tspan font-size="7.5" dy="4.6">5</tspan></text>
<line x1="288.8" y1="761.7" x2="288.8" y2="788" stroke="#000" stroke-width="0.9"/>
<line x1="306" y1="761.7" x2="306" y2="788" stroke="#000" stroke-width="0.9"/>
<line x1="288.8" y1="765.4" x2="267.8" y2="765.4" stroke="#000" stroke-width="0.9"/>
<polygon points="288.8,765.4 277.8,763.3 277.8,767.5" fill="#000"/>
<line x1="306" y1="765.4" x2="327" y2="765.4" stroke="#000" stroke-width="0.9"/>
<polygon points="306,765.4 317,763.3 317,767.5" fill="#000"/>
<text x="290.6" y="768.6" font-size="15.5" stroke="#000" stroke-width="0.35">d<tspan font-size="11" dy="3.2">2</tspan></text>
<path d="M282.9,898.2 Q287.9,897.7 288.9,894.3 L305.9,894.3 Q306.9,897.7 311.9,898.2 Z" fill="#f4f4f4" stroke="#000" stroke-width="1.4"/>
<rect x="264.2" y="898.1" width="66.4" height="3.7" fill="#fff" stroke="#000" stroke-width="1.5"/>
<path d="M288.8,832 L288.8,790.1 Q288.8,788.1 290.8,788.1 L304,788.1 Q306,788.1 306,790.1 L306,832" fill="#f4f4f4" stroke="#000" stroke-width="1.6"/>
<line x1="289.3" y1="790.4" x2="305.5" y2="790.4" stroke="#000" stroke-width="0.9"/>
<line x1="291.1" y1="790.6" x2="291.1" y2="832" stroke="#999" stroke-width="1.4"/>
<line x1="303.7" y1="790.6" x2="303.7" y2="832" stroke="#999" stroke-width="1.4"/>
<path d="M289.3,877 L289.3,890.5 Q289.3,893.5 292.3,893.5 L301.7,893.5 Q304.7,893.5 304.7,890.5 L304.7,877" fill="#f4f4f4" stroke="#000" stroke-width="1.5"/>
<rect x="292.2" y="880.5" width="10.5" height="10.1" rx="3.5" fill="none" stroke="#000" stroke-width="1.1"/>
<rect x="285.3" y="832.3" width="25.1" height="45.8" fill="#fff" stroke="#000" stroke-width="1.6"/>
<rect x="286.1" y="833.1" width="11.2" height="44.2" fill="#f2f2f2"/>
<rect x="297.3" y="833.1" width="8.6" height="8.1" fill="#f2f2f2"/>
<line x1="303.5" y1="833" x2="303.5" y2="841" stroke="#999" stroke-width="1.2"/>
<path d="M297.3,841.2 L303.8,841.2 Q305.9,841.2 305.9,843.5" fill="none" stroke="#000" stroke-width="1.1"/>
<clipPath id="c406"><rect x="306" y="833.1" width="3.6" height="44.2"/></clipPath>
<path d="M245.75,833.1 L301,877.3 M250.75,833.1 L306,877.3 M255.75,833.1 L311,877.3 M260.75,833.1 L316,877.3 M265.75,833.1 L321,877.3 M270.75,833.1 L326,877.3 M275.75,833.1 L331,877.3 M280.75,833.1 L336,877.3 M285.75,833.1 L341,877.3 M290.75,833.1 L346,877.3 M295.75,833.1 L351,877.3 M300.75,833.1 L356,877.3 M305.75,833.1 L361,877.3 " stroke="#000" stroke-width="1" clip-path="url(#c406)"/>
<line x1="305.9" y1="832.3" x2="305.9" y2="878.1" stroke="#000" stroke-width="1.2"/>
<path d="M290.5,877.3 L290.5,867 Q290.5,863.9 294,863.9 L297.3,863.9" fill="none" stroke="#000" stroke-width="1.1"/>
<line x1="285.5" y1="803.1" x2="310" y2="803.1" stroke="#000" stroke-width="0.9" stroke-dasharray="3 1.5"/>
<line x1="285.5" y1="803.1" x2="285.5" y2="831" stroke="#000" stroke-width="0.9" stroke-dasharray="3 1.5"/>
<line x1="309.8" y1="803.1" x2="309.8" y2="831" stroke="#000" stroke-width="0.9" stroke-dasharray="3 1.5"/>
<line x1="297.4" y1="784" x2="297.4" y2="906" stroke="#000" stroke-width="0.9" stroke-dasharray="24 2 4 2" stroke-dashoffset="20"/>
<line x1="218.3" y1="787.6" x2="289" y2="787.6" stroke="#000" stroke-width="0.9"/>
<line x1="218.3" y1="901.9" x2="264" y2="901.9" stroke="#000" stroke-width="0.9"/>
<line x1="246" y1="831.7" x2="285" y2="831.7" stroke="#000" stroke-width="0.9"/>
<line x1="246" y1="878.4" x2="285" y2="878.4" stroke="#000" stroke-width="0.9"/>
<line x1="222" y1="787.6" x2="222" y2="835" stroke="#000" stroke-width="0.9"/>
<polygon points="222,787.6 219.9,798.6 224.1,798.6" fill="#000"/>
<line x1="222" y1="901.9" x2="222" y2="858" stroke="#000" stroke-width="0.9"/>
<polygon points="222,901.9 219.9,890.9 224.1,890.9" fill="#000"/>
<text x="225.5" y="847.5" font-size="16" text-anchor="middle" transform="rotate(-90 225.5 847.5)" stroke="#000" stroke-width="0.35">l<tspan font-size="11" dy="3.2">3</tspan></text>
<line x1="249.6" y1="787.6" x2="249.6" y2="801" stroke="#000" stroke-width="0.9"/>
<polygon points="249.6,787.6 247.5,798.6 251.7,798.6" fill="#000"/>
<line x1="249.6" y1="831.7" x2="249.6" y2="818" stroke="#000" stroke-width="0.9"/>
<polygon points="249.6,831.7 247.5,820.7 251.7,820.7" fill="#000"/>
<text x="253" y="807.8" font-size="16" text-anchor="middle" transform="rotate(-90 253 807.8)" stroke="#000" stroke-width="0.35">l<tspan font-size="11" dy="3.2">4</tspan></text>
<line x1="249.6" y1="831.7" x2="249.6" y2="845" stroke="#000" stroke-width="0.9"/>
<polygon points="249.6,831.7 247.5,842.7 251.7,842.7" fill="#000"/>
<line x1="249.6" y1="878.4" x2="249.6" y2="864" stroke="#000" stroke-width="0.9"/>
<polygon points="249.6,878.4 247.5,867.4 251.7,867.4" fill="#000"/>
<text x="253" y="854.5" font-size="16" text-anchor="middle" transform="rotate(-90 253 854.5)" stroke="#000" stroke-width="0.35">l<tspan font-size="11" dy="3.2">5</tspan></text>
<line x1="285.5" y1="825.2" x2="264.3" y2="825.2" stroke="#000" stroke-width="0.9"/>
<polygon points="285.5,825.2 274.5,823.1 274.5,827.3" fill="#000"/>
<line x1="309.8" y1="825.2" x2="330.8" y2="825.2" stroke="#000" stroke-width="0.9"/>
<polygon points="309.8,825.2 320.8,823.1 320.8,827.3" fill="#000"/>
<text x="322.8" y="822.5" font-size="16" stroke="#000" stroke-width="0.35">d<tspan font-size="11" dy="3.2">5</tspan></text>
<line x1="310.5" y1="802" x2="350" y2="802" stroke="#000" stroke-width="0.9"/>
<line x1="310.5" y1="831.2" x2="350" y2="831.2" stroke="#000" stroke-width="0.9"/>
<line x1="345.3" y1="802" x2="345.3" y2="831.2" stroke="#000" stroke-width="0.9"/>
<polygon points="345.3,802 343.2,813 347.4,813" fill="#000"/>
<polygon points="345.3,831.2 343.2,820.2 347.4,820.2" fill="#000"/>
<line x1="345.3" y1="785" x2="345.3" y2="802" stroke="#000" stroke-width="0.9"/>
<text x="341.5" y="796" font-size="16" transform="rotate(-90 341.5 796)" stroke="#000" stroke-width="0.35">l<tspan font-size="11" dy="3.2">6</tspan></text>
<text x="361.2" y="800" font-size="12.6" text-anchor="middle" transform="rotate(-90 361.2 800)" stroke="#000" stroke-width="0.35">Verstellweg</text>
<text x="320" y="845.6" font-size="12.8" stroke="#000" stroke-width="0.35">Verstell-</text>
<text x="320" y="860.5" font-size="12.8" stroke="#000" stroke-width="0.35">hülse</text>
<line x1="334" y1="873.6" x2="298.5" y2="867.5" stroke="#000" stroke-width="0.9"/>
<text x="340.4" y="876.8" font-size="12.6" stroke="#000" stroke-width="0.35">SW<tspan font-size="7.5" dy="4.6">6</tspan></text>
<line x1="334" y1="889" x2="298.5" y2="884" stroke="#000" stroke-width="0.9"/>
<text x="340.4" y="891.9" font-size="12.6" stroke="#000" stroke-width="0.35">SW<tspan font-size="7.5" dy="4.6">5</tspan></text>
<text x="377" y="803.9" font-size="12.8" font-weight="bold" stroke="#000" stroke-width="0.15">W</text>
<text x="396.5" y="803.9" font-size="12.8" stroke="#000" stroke-width="0.35">mit Verstell-</text>
<text x="396.5" y="818.1" font-size="12.8" stroke="#000" stroke-width="0.35">hülse</text>
<path d="M513.3,897.8 Q518.3,897.3 519.3,894.3 L535.3,894.3 Q536.3,897.3 541.3,897.8 Z" fill="#f4f4f4" stroke="#000" stroke-width="1.4"/>
<rect x="493.7" y="897.6" width="67.3" height="4.2" fill="#fff" stroke="#000" stroke-width="1.5"/>
<rect x="514.8" y="859.2" width="25.7" height="35.1" rx="2.5" fill="#f4f4f4" stroke="#000" stroke-width="1.6"/>
<line x1="519.8" y1="860" x2="519.8" y2="893.5" stroke="#000" stroke-width="1"/>
<line x1="534.3" y1="860" x2="534.3" y2="893.5" stroke="#000" stroke-width="1"/>
<rect x="534.5" y="860.2" width="5.3" height="14.5" fill="#fff"/>
<clipPath id="c461"><rect x="534.5" y="860.2" width="5.3" height="14.5"/></clipPath>
<path d="M501,860.2 L508.25,874.7 M505.5,860.2 L512.75,874.7 M510,860.2 L517.25,874.7 M514.5,860.2 L521.75,874.7 M519,860.2 L526.25,874.7 M523.5,860.2 L530.75,874.7 M528,860.2 L535.25,874.7 M532.5,860.2 L539.75,874.7 M537,860.2 L544.25,874.7 " stroke="#000" stroke-width="1" clip-path="url(#c461)"/>
<line x1="527.3" y1="875.1" x2="534.3" y2="875.1" stroke="#000" stroke-width="0.9"/>
<line x1="527.3" y1="859.5" x2="527.3" y2="875" stroke="#000" stroke-width="0.9" stroke-dasharray="2 1"/>
<line x1="527.3" y1="852" x2="527.3" y2="906" stroke="#000" stroke-width="0.9" stroke-dasharray="24 2 4 2" stroke-dashoffset="18"/>
<line x1="455" y1="858.7" x2="579" y2="858.7" stroke="#000" stroke-width="0.9"/>
<line x1="455" y1="901.9" x2="493" y2="901.9" stroke="#000" stroke-width="0.9"/>
<line x1="534.5" y1="875.1" x2="579" y2="875.1" stroke="#000" stroke-width="0.9"/>
<line x1="458" y1="858.7" x2="458" y2="836.7" stroke="#000" stroke-width="0.9"/>
<polygon points="458,858.7 455.9,847.7 460.1,847.7" fill="#000"/>
<line x1="458" y1="901.9" x2="458" y2="925" stroke="#000" stroke-width="0.9"/>
<polygon points="458,901.9 455.9,912.9 460.1,912.9" fill="#000"/>
<text x="461.5" y="881" font-size="16" text-anchor="middle" transform="rotate(-90 461.5 881)" stroke="#000" stroke-width="0.35">l<tspan font-size="11" dy="3.2">7</tspan></text>
<line x1="535.5" y1="832.5" x2="535.5" y2="859" stroke="#000" stroke-width="0.9"/>
<line x1="535.5" y1="836.2" x2="556" y2="836.2" stroke="#000" stroke-width="0.9"/>
<polygon points="535.5,836.2 546.5,834.1 546.5,838.3" fill="#000"/>
<text x="547.9" y="832.6" font-size="16" stroke="#000" stroke-width="0.35">d<tspan font-size="11" dy="3.2">2</tspan></text>
<line x1="575.2" y1="858.7" x2="575.2" y2="836" stroke="#000" stroke-width="0.9"/>
<polygon points="575.2,858.7 573.1,847.7 577.3,847.7" fill="#000"/>
<line x1="575.2" y1="875.1" x2="575.2" y2="894.7" stroke="#000" stroke-width="0.9"/>
<polygon points="575.2,875.1 573.1,886.1 577.3,886.1" fill="#000"/>
<text x="580.5" y="868.7" font-size="15" text-anchor="middle" transform="rotate(-90 580.5 868.7)" stroke="#000" stroke-width="0.35">t</text>
<line x1="495.9" y1="846.7" x2="518.4" y2="869.2" stroke="#000" stroke-width="0.9"/>
<text x="467.5" y="842.5" font-size="12.6" stroke="#000" stroke-width="0.35">SW<tspan font-size="7.5" dy="4.6">7</tspan></text>
<text x="565.3" y="804.1" font-size="12.8" font-weight="bold" stroke="#000" stroke-width="0.15">X</text>
<text x="584" y="804.1" font-size="12.8" stroke="#000" stroke-width="0.35">mit Innen-</text>
<text x="584" y="818.9" font-size="12.8" stroke="#000" stroke-width="0.35">gewinde</text>
</svg></body></html>
